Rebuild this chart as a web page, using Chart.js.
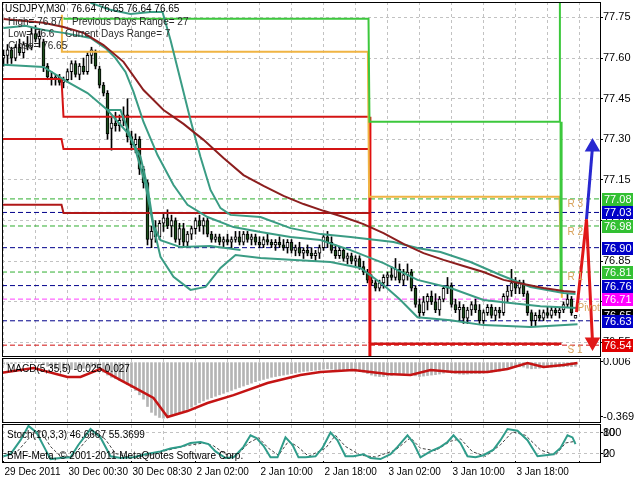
<!DOCTYPE html>
<html>
<head>
<meta charset="utf-8">
<script src="https://cdn.jsdelivr.net/npm/chart.js@4.4.0/dist/chart.umd.min.js"></script>
<style>
  html, body { margin:0; padding:0; background:#fff; }
  #wrap { position:relative; width:640px; height:480px; background:#fff; overflow:hidden; }
  canvas { position:absolute; left:0; }
</style>
</head>
<body>
<div id="wrap">
  <canvas id="cMain" width="640" height="358" style="top:0"></canvas>
  <canvas id="cMacd" width="640" height="66" style="top:358px"></canvas>
  <canvas id="cStoch" width="640" height="56" style="top:424px"></canvas>
</div>
<script>
// ---------------- DATA ----------------
const xLabels = ['29 Dec 2011','30 Dec 00:30','30 Dec 08:30','2 Jan 02:00','2 Jan 10:00','2 Jan 18:00','3 Jan 02:00','3 Jan 10:00','3 Jan 18:00'];
const barsPerLabel = 16;

const opens = [77.60,77.61,77.63,77.60,77.64,77.62,77.65,77.64,77.69,77.67,
 77.66,77.57,77.53,77.52,77.53,77.51,77.52,77.55,77.58,77.54,
 77.57,77.55,77.61,77.62,77.56,77.50,77.47,77.34,77.36,77.35,
 77.37,77.39,77.31,77.28,77.30,77.19,77.14,76.93,76.96,76.94,
 76.99,77.01,76.98,77.00,76.93,76.97,76.92,76.95,76.97,77.00,
 76.98,77.00,76.95,76.93,76.94,76.92,76.93,76.92,76.93,76.94,
 76.92,76.95,76.93,76.94,76.92,76.91,76.93,76.92,76.91,76.92,
 76.91,76.90,76.92,76.89,76.90,76.88,76.89,76.88,76.87,76.88,
 76.90,76.94,76.92,76.89,76.87,76.89,76.86,76.87,76.85,76.86,
 76.83,76.81,76.78,76.77,76.75,76.77,76.79,76.80,76.79,76.82,
 76.78,76.80,76.81,76.75,76.69,76.66,76.70,76.72,76.70,76.67,
 76.71,76.75,76.76,76.69,76.67,76.68,76.64,76.67,76.69,76.67,
 76.63,76.66,76.68,76.65,76.67,76.66,76.72,76.74,76.77,76.75,
 76.77,76.73,76.66,76.63,76.65,76.64,76.66,76.65,76.67,76.66,
 76.67,76.69,76.71,76.64];
const highs = [77.63,77.65,77.64,77.65,77.67,77.66,77.68,77.71,77.72,77.70,
 77.67,77.58,77.55,77.54,77.54,77.53,77.56,77.59,77.59,77.58,
 77.60,77.62,77.64,77.63,77.57,77.51,77.48,77.38,77.40,77.39,
 77.42,77.45,77.33,77.32,77.31,77.20,77.15,76.98,77.00,77.00,
 77.03,77.04,77.02,77.01,76.99,76.99,76.96,76.98,77.01,77.02,
 77.01,77.01,76.96,76.95,76.95,76.94,76.95,76.94,76.96,76.96,
 76.96,76.96,76.95,76.95,76.94,76.94,76.95,76.93,76.93,76.94,
 76.93,76.93,76.93,76.91,76.92,76.90,76.91,76.90,76.89,76.91,
 76.95,76.96,76.94,76.91,76.90,76.90,76.88,76.88,76.87,76.87,
 76.85,76.82,76.80,76.78,76.78,76.80,76.81,76.83,76.86,76.84,
 76.82,76.84,76.82,76.76,76.71,76.72,76.73,76.74,76.73,76.72,
 76.76,76.79,76.77,76.71,76.70,76.69,76.68,76.70,76.71,76.69,
 76.67,76.69,76.69,76.68,76.68,76.73,76.76,76.82,76.79,76.78,
 76.78,76.74,76.67,76.66,76.67,76.67,76.68,76.68,76.68,76.68,
 76.70,76.73,76.72,76.65];
const lows = [77.57,77.58,77.58,77.59,77.61,77.60,77.63,77.63,77.66,77.64,
 77.55,77.52,77.50,77.50,77.50,77.49,77.51,77.52,77.53,77.52,
 77.54,77.54,77.58,77.56,77.49,77.46,77.30,77.26,77.33,77.33,
 77.35,77.29,77.26,77.25,77.17,77.12,76.91,76.90,76.92,76.93,
 76.96,76.97,76.94,76.92,76.91,76.90,76.90,76.93,76.95,76.96,
 76.95,76.94,76.92,76.92,76.91,76.90,76.91,76.90,76.92,76.91,
 76.91,76.92,76.91,76.91,76.90,76.90,76.91,76.90,76.89,76.90,
 76.89,76.88,76.88,76.87,76.87,76.86,76.87,76.86,76.85,76.86,
 76.89,76.90,76.88,76.86,76.86,76.85,76.84,76.84,76.83,76.82,
 76.80,76.77,76.76,76.74,76.74,76.75,76.76,76.78,76.78,76.77,
 76.76,76.78,76.74,76.68,76.64,76.65,76.67,76.69,76.66,76.65,
 76.70,76.73,76.68,76.66,76.63,76.62,76.62,76.65,76.66,76.62,
 76.62,76.65,76.64,76.63,76.64,76.65,76.70,76.72,76.73,76.73,
 76.72,76.65,76.61,76.61,76.63,76.63,76.64,76.64,76.65,76.64,
 76.66,76.68,76.65,76.64];
const closes = [77.61,77.63,77.60,77.64,77.62,77.65,77.64,77.69,77.67,77.68,
 77.57,77.53,77.52,77.53,77.51,77.52,77.55,77.58,77.54,77.57,
 77.55,77.61,77.63,77.57,77.50,77.47,77.32,77.36,77.35,77.37,
 77.39,77.31,77.28,77.30,77.19,77.14,76.93,76.96,76.94,76.99,
 77.01,76.98,77.00,76.93,76.97,76.92,76.95,76.97,77.00,76.98,
 77.00,76.95,76.93,76.94,76.92,76.93,76.92,76.93,76.94,76.92,
 76.95,76.93,76.94,76.92,76.91,76.93,76.92,76.91,76.92,76.91,
 76.90,76.92,76.89,76.90,76.88,76.89,76.88,76.87,76.88,76.90,
 76.94,76.92,76.89,76.87,76.89,76.86,76.87,76.85,76.86,76.83,
 76.81,76.78,76.77,76.75,76.77,76.79,76.80,76.79,76.82,76.78,
 76.80,76.81,76.75,76.69,76.66,76.70,76.72,76.70,76.67,76.71,
 76.75,76.76,76.69,76.67,76.68,76.64,76.67,76.69,76.67,76.63,
 76.66,76.68,76.65,76.67,76.66,76.72,76.74,76.77,76.75,76.77,
 76.73,76.66,76.63,76.65,76.64,76.66,76.65,76.67,76.66,76.67,
 76.69,76.71,76.66,76.65];

// moving average (dark red)
const maIdx = [0,10,15,20,25,30,35,40,45,50,55,60,65,70,75,80,85,90,95,100,105,110,115,120,125,130,135,140,143];
const maVal = [77.744,77.730,77.715,77.693,77.648,77.586,77.482,77.408,77.357,77.298,77.231,77.168,77.128,77.091,77.061,77.036,77.013,76.987,76.954,76.914,76.880,76.855,76.832,76.810,76.781,76.766,76.751,76.740,76.736];

// teal band lines
const band1Idx = [21.75,26.75,31.75,36.75,39.75,41.75,44.25,46.75,49.25,51.75,54.25,56.75,64.25,71.75,79.25,86.75,97.5,103.5,109.25,116.75,124.25,131.75,140,143];
const band1Val = [77.804,77.778,77.763,77.770,77.770,77.667,77.519,77.371,77.235,77.113,77.046,77.021,77.013,76.972,76.950,76.939,76.921,76.899,76.884,76.847,76.799,76.755,76.733,76.729];
const band2Idx = [0,5.5,10,15,21.75,25.5,28,30.5,32.5,35,38.5,42.5,46,51,57.5,64.25,71.75,79.25,86.75,95,103.5,111.75,120,126.75,134.25,143.5];
const band2Val = [77.711,77.719,77.704,77.693,77.674,77.637,77.600,77.549,77.475,77.364,77.242,77.131,77.058,77.013,76.976,76.958,76.939,76.928,76.891,76.843,76.781,76.751,76.707,76.696,76.684,76.677];
const band3Idx = [0,10,16,21,26,31,34.25,36,37.5,39.25,44.25,51.75,59.25];
const band3Val = [77.575,77.567,77.512,77.471,77.408,77.324,77.235,77.124,76.983,76.928,76.902,76.906,76.891];
const band4Idx = [26,29.25,33,35.5,37.5,39.25,42.5,46.75,50.5,54.25,58,64.25,71.75,81.75,89.25,95,99.25,103.5,111.75,120,131.75,143.5];
const band4Val = [77.408,77.408,77.261,77.131,76.976,76.866,76.792,76.744,76.755,76.825,76.873,76.862,76.855,76.847,76.825,76.762,76.707,76.643,76.632,76.614,76.607,76.617];

// daily level step lines
const redAIdx = [-0.375,14.5,15.0,91.6];  const redAVal = [77.523,77.523,77.383,77.383];
const redBIdx = [-0.375,14.5,15.0,91.6];  const redBVal = [77.301,77.301,77.264,77.264];
const redCIdx = [-0.375,14.5,15.0,91.6];  const redCVal = [77.058,77.058,77.028,77.028];
const redVIdx = [91.6,91.6];              const redVVal = [77.383,76.48];
const redSIdx = [91.6,139.5];             const redSVal = [76.545,76.545];
const orangeIdx = [14.6,14.6,91.1,91.4,139.0,139.6]; const orangeVal = [77.76,77.623,77.623,77.088,77.088,76.715];
const greenIdx = [15,91.25,91.5,138.9,139.1];        const greenVal = [77.745,77.745,77.365,77.365,77.83];
const green2Idx = [139.4,139.4];                     const green2Val = [77.365,76.735];

// pivot levels (dashed) and current price
const levelVals = [77.08,77.03,76.98,76.90,76.81,76.76,76.71,76.63,76.54];
const currentPrice = 76.65;
const priceTicks = [77.75,77.60,77.45,77.30,77.15,77.00,76.85,76.70,76.55];

// forecast arrows
const redArrowIdx = [143.25,145.75,147.25]; const redArrowVal = [76.662,77.005,76.552];
const blueArrowIdx = [145.75,147.25];       const blueArrowVal = [77.005,77.272];

// MACD
const macdHist = [-0.010,-0.012,-0.008,-0.005,-0.002,0.000,0.002,0.004,0.003,0.000,
 -0.010,-0.025,-0.035,-0.042,-0.048,-0.050,-0.048,-0.045,-0.042,-0.040,
 -0.038,-0.035,-0.030,-0.035,-0.050,-0.065,-0.085,-0.100,-0.110,-0.120,
 -0.130,-0.150,-0.170,-0.190,-0.220,-0.250,-0.300,-0.340,-0.360,-0.375,
 -0.380,-0.375,-0.365,-0.355,-0.345,-0.330,-0.320,-0.305,-0.290,-0.275,
 -0.262,-0.250,-0.240,-0.230,-0.220,-0.210,-0.200,-0.190,-0.180,-0.170,
 -0.160,-0.150,-0.140,-0.130,-0.122,-0.115,-0.108,-0.100,-0.095,-0.090,
 -0.085,-0.080,-0.075,-0.070,-0.065,-0.060,-0.058,-0.055,-0.052,-0.050,
 -0.045,-0.042,-0.045,-0.048,-0.050,-0.052,-0.054,-0.056,-0.058,-0.060,
 -0.065,-0.075,-0.085,-0.092,-0.095,-0.095,-0.092,-0.088,-0.080,-0.078,
 -0.075,-0.074,-0.080,-0.090,-0.095,-0.092,-0.088,-0.085,-0.082,-0.078,
 -0.072,-0.066,-0.070,-0.074,-0.078,-0.080,-0.078,-0.075,-0.074,-0.075,
 -0.072,-0.068,-0.065,-0.062,-0.058,-0.050,-0.042,-0.035,-0.030,-0.028,
 -0.030,-0.038,-0.042,-0.040,-0.038,-0.035,-0.033,-0.031,-0.030,-0.029,
 -0.028,-0.026,-0.027,-0.025];
const macdSigIdx = [-0.75,7.5,16,19.25,24.25,29.25,33,37.5,41,46,51,57.5,66,74.25,79.25,87.5,96,101.75,106.75,112.5,121,126,131,135,140,143.5];
const macdSigVal = [-0.071,-0.037,-0.098,-0.098,-0.043,-0.119,-0.174,-0.242,-0.372,-0.331,-0.276,-0.222,-0.139,-0.085,-0.064,-0.050,-0.078,-0.085,-0.050,-0.064,-0.064,-0.043,-0.002,-0.030,-0.016,-0.002];
const macdTicks = [0.006,-0.369];

// Stochastic
const stochIdx = [0,1.75,4.25,6.25,8.25,10.5,11.75,14.25,16.75,18.75,21.75,24.25,26.75,29.25,32.5,35.5,39.25,41.75,44.25,46.75,49.25,51.25,53,55.5,57.5,60,61.75,63.25,65,66.75,68.5,70.5,72.25,73.75,75.5,78,79.75,81.75,83.5,85.5,87.5,90,91.75,94.25,96.75,98.5,101,102.5,104.25,106.75,109.25,111,112.5,114.25,116,118,120,122.5,124.25,126,128.5,131,133.5,135.5,137.5,139.25,141,142.25,143];
const stochVal = [12,18,58,99,80,31,4,7,9,45,90,66,12,7,9,18,26,34,39,50,53,47,26,7,9,39,72,64,42,9,9,66,45,9,9,12,36,80,58,12,12,18,7,4,18,39,72,50,9,26,39,53,72,50,12,9,15,31,58,90,85,58,12,15,18,36,72,66,47];
const stochSigIdx = [0,3,7.25,9.25,11.75,14.25,17.25,20.5,23,25.5,28,31.75,36.75,40.5,45.5,50,52.5,55.5,58,61.25,63.75,66.25,68.75,71.25,73.5,76.25,80.5,83,85.5,89.25,93,98,101.75,104.25,108,111.75,114.25,117.25,120.5,124.25,127.25,130.5,134.25,138,140.5,143];
const stochSigVal = [20,20,75,85,40,12,10,55,82,60,20,8,15,28,42,50,42,18,10,50,65,35,15,55,40,12,35,72,40,15,10,30,65,35,28,55,62,25,12,45,82,72,30,15,50,55];
const stochTicks = [80,20];

// ---------------- CHARTS ----------------
Chart.defaults.font.family = 'Liberation Sans';
Chart.defaults.font.size = 11;
Chart.defaults.color = '#000';
Chart.defaults.animation = false;

const FONT = '10px "Liberation Sans"';
const GRID = '#c2c2c2';
const TEAL = '#3a9c84';
const xMin = -0.375, xMax = 149.125;
const xGridTicks = [];
for (let v = 0; v <= xMax; v += barsPerLabel / 2) xGridTicks.push(v);
const barIdx = closes.map((_, i) => i);
const pts = (xs, ys) => xs.map((x, i) => ({ x, y: ys[i] }));

function xScale(showLabels) {
  return {
    type: 'linear', min: xMin, max: xMax, offset: false, position: 'bottom',
    afterBuildTicks: s => { s.ticks = xGridTicks.map(v => ({ value: v })); },
    ticks: showLabels ? {
      display: true, autoSkip: false, maxRotation: 0, minRotation: 0, align: 'start', labelOffset: 1, padding: 3,
      font: { family: 'Liberation Sans', size: 10 }, color: '#000',
      callback: v => (v % barsPerLabel === 0 && xLabels[v / barsPerLabel] !== undefined) ? xLabels[v / barsPerLabel] : ''
    } : { display: false },
    grid: showLabels ? {
      color: GRID, offset: false, drawTicks: true, tickLength: 2,
      tickColor: c => (c.tick && c.tick.value % barsPerLabel === 0) ? '#000' : 'rgba(0,0,0,0)'
    } : { color: GRID, offset: false, drawTicks: false },
    border: { display: false, dash: [3, 3] },
    afterFit: s => { s.height = showLabels ? 19 : 0; s.paddingLeft = 0; s.paddingRight = 0; }
  };
}
function yRight(extra) {
  return Object.assign({
    position: 'right',
    border: { display: false, dash: [3, 3] },
    afterFit: s => { s.width = 40; s.paddingTop = 0; s.paddingBottom = 0; }
  }, extra);
}
const baseOpts = { responsive: false, events: [], plugins: { legend: { display: false }, tooltip: { enabled: false } } };
const lineDs = (xs, ys, color, width, order, extra) => Object.assign({
  type: 'line', data: pts(xs, ys), borderColor: color, borderWidth: width, pointRadius: 0, tension: 0, fill: false, order
}, extra || {});

function frame(chart, topExtra, bottomExtra) {
  const { ctx, chartArea: a } = chart;
  ctx.save();
  ctx.strokeStyle = '#000'; ctx.lineWidth = 1;
  ctx.strokeRect(a.left + 0.5, a.top - topExtra + 0.5, a.right - a.left, a.bottom - a.top + topExtra + bottomExtra);
  ctx.restore();
}

// ---- main price chart ----
const levelLineColors = ['#2fae2f','#00008b','#2fae2f','#00008b','#2fae2f','#00008b','#ff40ff','#00008b','#d01010'];
const levelBoxColors  = ['#33c033','#0000c8','#33c033','#0000c8','#33c033','#0000c8','#ff00ff','#0000c8','#e00000'];

const mainDatasets = [
  lineDs(redArrowIdx, redArrowVal, '#e01818', 3, 0, {
    pointStyle: 'triangle', pointRotation: 180, pointBackgroundColor: '#e01818', pointBorderColor: '#e01818',
    pointRadius: c => c.dataIndex === redArrowIdx.length - 1 ? 6 : 0 }),
  lineDs(blueArrowIdx, blueArrowVal, '#2828d0', 3, 1, {
    pointStyle: 'triangle', pointRotation: 0, pointBackgroundColor: '#2828d0', pointBorderColor: '#2828d0',
    pointRadius: c => c.dataIndex === blueArrowIdx.length - 1 ? 6 : 0 }),
  lineDs(maIdx, maVal, '#8c1e1e', 2, 2),
  lineDs(band1Idx, band1Val, TEAL, 2, 3),
  lineDs(band2Idx, band2Val, TEAL, 2, 4),
  lineDs(band3Idx, band3Val, TEAL, 2, 5),
  lineDs(band4Idx, band4Val, TEAL, 2, 6),
  lineDs(greenIdx, greenVal, '#3cc83c', 2, 7),
  lineDs(green2Idx, green2Val, '#3cc83c', 3, 7),
  lineDs(orangeIdx, orangeVal, '#f0b443', 2, 8),
  lineDs(redAIdx, redAVal, '#d41414', 2, 9),
  lineDs(redBIdx, redBVal, '#d41414', 2, 9),
  lineDs(redCIdx, redCVal, '#b01818', 2, 9),
  lineDs(redVIdx, redVVal, '#e01010', 3, 9),
  lineDs(redSIdx, redSVal, '#d41414', 2.5, 9),
  { type: 'bar', data: barIdx.map(i => ({ x: i, y: [opens[i], closes[i]] })),
    backgroundColor: barIdx.map(i => closes[i] >= opens[i] ? '#ffffff' : '#1d4f1d'),
    borderColor: '#000', borderWidth: 1, borderSkipped: false, barThickness: 3, minBarLength: 1, grouped: false, order: 20 },
  { type: 'bar', data: barIdx.map(i => ({ x: i, y: [lows[i], highs[i]] })),
    backgroundColor: '#000', barThickness: 1, grouped: false, order: 21 }
];
levelVals.forEach((v, k) => {
  mainDatasets.push(lineDs([xMin, xMax], [v, v], levelLineColors[k], 1, 30 + k, { borderDash: [5, 3] }));
});

const mainOverlay = {
  id: 'mainOverlay',
  afterDraw(chart) {
    const { ctx, chartArea: a, scales: { x, y } } = chart;
    frame(chart, 0, 0);
    ctx.save();
    ctx.textBaseline = 'middle';
    // price boxes
    ctx.font = '11px "Liberation Sans"';
    const boxes = levelVals.map((v, k) => ({ v, c: levelBoxColors[k] }));
    boxes.splice(7, 0, { v: currentPrice, c: '#000' });
    boxes.forEach(b => {
      const yy = Math.round(y.getPixelForValue(b.v));
      ctx.fillStyle = b.c; ctx.fillRect(a.right + 2, yy - 6, 31, 13);
      ctx.fillStyle = '#fff'; ctx.fillText(b.v.toFixed(2), a.right + 4, yy + 1);
    });
    // level names
    ctx.font = FONT;
    ctx.save();
    ctx.beginPath(); ctx.rect(a.left, a.top, a.right - a.left, a.bottom - a.top); ctx.clip();
    ctx.fillStyle = '#d9a35c';
    [['R 3', 141, 77.061], ['R 2', 141, 76.958], ['R 1', 141, 76.792], ['S 1', 141, 76.52], ['Pivot', 143.5, 76.677]]
      .forEach(t => ctx.fillText(t[0], x.getPixelForValue(t[1]), y.getPixelForValue(t[2])));
    ctx.restore();
    // info texts
    ctx.fillStyle = '#000';
    ctx.fillText('USDJPY,M30  76.64 76.65 76.64 76.65', 5, 9);
    ctx.fillStyle = '#2a2a2a';
    ctx.fillText('High= 76.87', 8, 22);
    ctx.fillText('Previous Days Range= 27', 72, 22);
    ctx.fillText('Low= 76.6', 8, 34);
    ctx.fillText('Current Days Range= 7', 65, 34);
    ctx.fillText('Close= 76.65', 8, 46);
    ctx.restore();
  }
};

new Chart(document.getElementById('cMain'), {
  type: 'line',
  data: { datasets: mainDatasets },
  options: Object.assign({}, baseOpts, {
    layout: { autoPadding: false, padding: { left: 2, top: 2, bottom: 2, right: 0 } },
    scales: {
      x: xScale(false),
      y: yRight({
        min: 76.50, max: 77.807,
        afterBuildTicks: s => { s.ticks = priceTicks.map(v => ({ value: v })); },
        ticks: { color: '#000', font: { family: 'Liberation Sans', size: 11 }, padding: 0, autoSkip: false, callback: v => v.toFixed(2) },
        grid: { color: GRID, tickColor: '#000', tickLength: 3 }
      })
    }
  }),
  plugins: [mainOverlay]
});

// ---- MACD ----
const macdOverlay = {
  id: 'macdOverlay',
  afterDraw(chart) {
    frame(chart, 1, 0);
    const ctx = chart.ctx;
    ctx.save(); ctx.font = FONT; ctx.textBaseline = 'middle'; ctx.fillStyle = '#000';
    ctx.fillText('MACD(5,35,5) -0.025 0.027', 7, 11);
    ctx.restore();
  }
};
new Chart(document.getElementById('cMacd'), {
  type: 'line',
  data: { datasets: [
    lineDs(macdSigIdx, macdSigVal, '#c41414', 2.5, 0),
    { type: 'bar', data: barIdx.map(i => ({ x: i, y: macdHist[i] })), backgroundColor: '#b4b4b4', barThickness: 2, grouped: false, order: 1 }
  ] },
  options: Object.assign({}, baseOpts, {
    layout: { autoPadding: false, padding: { left: 2, top: 1, bottom: 2, right: 0 } },
    scales: {
      x: xScale(false),
      y: yRight({
        min: -0.406, max: 0.025,
        afterBuildTicks: s => { s.ticks = macdTicks.map(v => ({ value: v })); },
        ticks: { color: '#000', font: { family: 'Liberation Sans', size: 11 }, padding: 0, autoSkip: false, callback: v => v.toFixed(3) },
        grid: { drawOnChartArea: false, tickColor: '#000', tickLength: 3 }
      })
    }
  }),
  plugins: [macdOverlay]
});

// ---- Stochastic ----
const stochOverlay = {
  id: 'stochOverlay',
  afterDraw(chart) {
    frame(chart, 1, 1);
    const { ctx, chartArea: a, scales: { y } } = chart;
    ctx.save(); ctx.font = FONT; ctx.textBaseline = 'middle'; ctx.fillStyle = '#000';
    ctx.fillText('Stoch(10,3,3) 46.6667 55.3699', 7, 11);
    ctx.fillText('BMF-Meta, \u00A9 2001-2011 MetaQuotes Software Corp.', 7, 32);
    ctx.font = '11px "Liberation Sans"';
    ctx.fillText('100', a.right + 3, y.getPixelForValue(stochTicks[0]));
    ctx.fillText('0', a.right + 3, y.getPixelForValue(stochTicks[1]));
    ctx.restore();
  }
};
new Chart(document.getElementById('cStoch'), {
  type: 'line',
  data: { datasets: [
    lineDs(stochIdx, stochVal, '#2f9c8a', 2, 0),
    lineDs(stochSigIdx, stochSigVal, '#404040', 1, 1, { borderDash: [3, 2] })
  ] },
  options: Object.assign({}, baseOpts, {
    layout: { autoPadding: false, padding: { left: 2, top: 1, bottom: 0, right: 0 } },
    scales: {
      x: xScale(true),
      y: yRight({
        min: -1.5, max: 101.5,
        afterBuildTicks: s => { s.ticks = stochTicks.map(v => ({ value: v })); },
        ticks: { color: '#000', font: { family: 'Liberation Sans', size: 11 }, padding: 0, autoSkip: false, callback: v => String(v) },
        grid: { color: GRID, tickColor: '#000', tickLength: 3 }
      })
    }
  }),
  plugins: [stochOverlay]
});
</script>
</body>
</html>
